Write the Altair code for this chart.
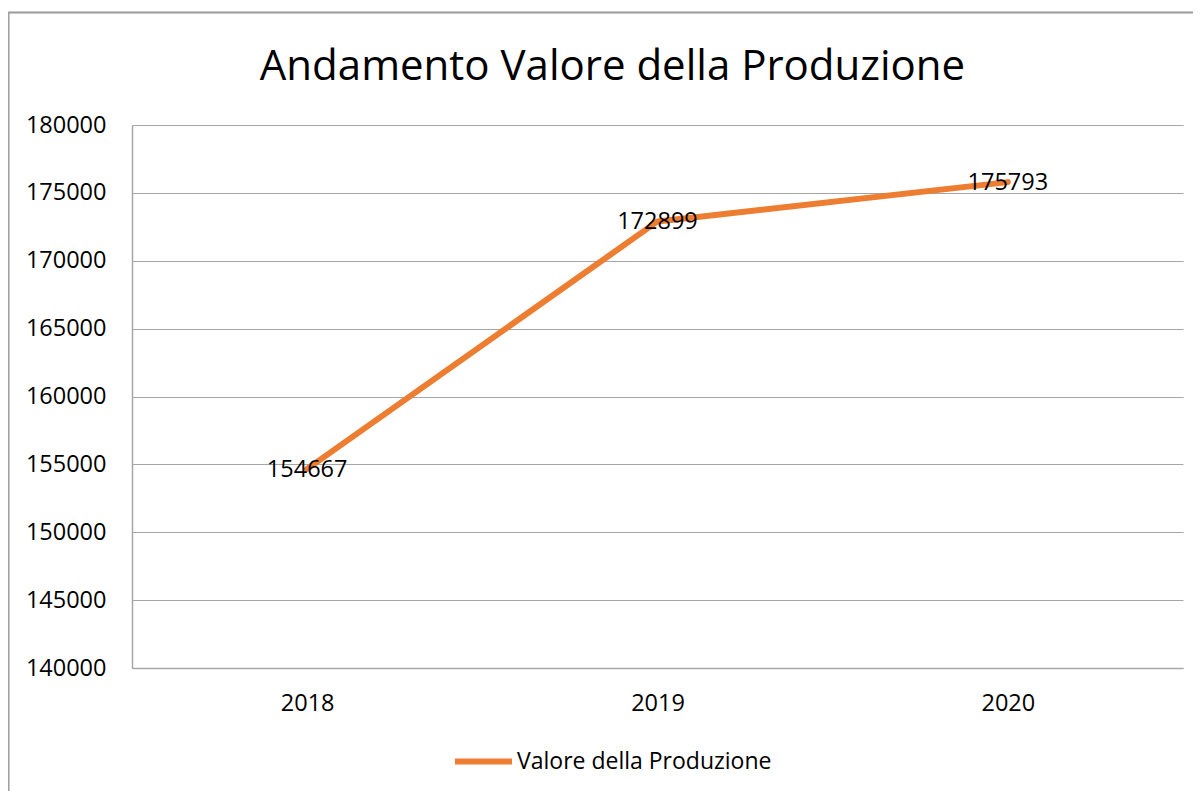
import altair as alt
import pandas as pd

years = ["2018", "2019", "2020"]
values = [154667, 172899, 175793]
series = "Valore della Produzione"
title_text = "Andamento Valore della Produzione"

df = pd.DataFrame({"Anno": years, "Valore": values, "Serie": [series] * 3})

FONT = "Open Sans"
FS = 23.5
W, H = 1051, 543

x_enc = alt.X("Anno:N", sort=years, title=None,
              scale=alt.Scale(paddingInner=0, paddingOuter=0.5),
              axis=alt.Axis(labelAngle=0, labelFontSize=FS, labelFont=FONT, labelColor="#000000",
                            labelPadding=23, ticks=False, domainColor="#a6a6a6", domainWidth=1.5, grid=False))
y_enc = alt.Y("Valore:Q", title=None,
              scale=alt.Scale(domain=[140000, 180000], nice=False, zero=False),
              axis=alt.Axis(values=list(range(140000, 180001, 5000)), format="d",
                            labelFontSize=FS, labelFont=FONT, labelColor="#000000", labelPadding=26,
                            ticks=False, domainColor="#a6a6a6", domainWidth=1.5,
                            grid=True, gridColor="#a6a6a6", gridWidth=1.2))

line = alt.Chart(df).mark_line(color="#ED7D31", strokeWidth=6, strokeCap="round", strokeJoin="round").encode(
    x=x_enc, y=y_enc,
    stroke=alt.Stroke("Serie:N", scale=alt.Scale(range=["#ED7D31"]),
                      legend=alt.Legend(title=None, orient="none", legendX=320, legendY=605,
                                        symbolType="stroke", symbolSize=3249, symbolStrokeWidth=6,
                                        labelFontSize=23, labelFont=FONT, labelColor="#000000",
                                        labelOffset=2, labelLimit=500)),
)

labels = alt.Chart(df).mark_text(fontSize=FS, font=FONT, color="#000000", baseline="middle", align="center", dy=1).encode(
    x=alt.X("Anno:N", sort=years), y="Valore:Q", text=alt.Text("Valore:Q", format="d")
)

border = alt.Chart(df).mark_rule(color="#a0a0a0", strokeWidth=1.5, clip=False).encode(
    x=alt.value(-123.5), x2=alt.value(-123.5), y=alt.value(-112.5), y2=alt.value(720)
) + alt.Chart(df).mark_rule(color="#a0a0a0", strokeWidth=1.5, clip=False).encode(
    x=alt.value(-123.5), x2=alt.value(1100), y=alt.value(-112.5), y2=alt.value(-112.5)
)

chart = alt.layer(border, line, labels).properties(
    width=W, height=H,
    title=alt.TitleParams(title_text, fontSize=42, font=FONT, fontWeight="normal", color="#000000",
                          anchor="middle", frame="group", dx=-45, dy=99, offset=22),
    padding={"left": 124, "top": 117, "right": 10, "bottom": 140},
    autosize=alt.AutoSizeParams(type="none"),
).configure_view(stroke=None)

chart.save("out.html", embed_options={"renderer": "svg", "actions": False})
